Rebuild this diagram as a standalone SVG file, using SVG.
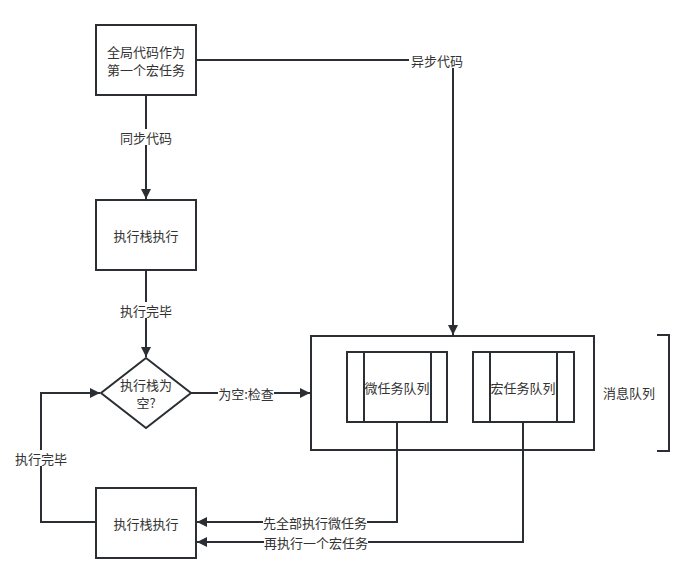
<svg xmlns="http://www.w3.org/2000/svg" width="693" height="582" viewBox="0 0 693 582">
<style>
.n{fill:#fff;stroke:#2b2f33;stroke-width:2}
.c{fill:none;stroke:#2b2f33;stroke-width:2}
.t{font-family:"Noto Sans CJK SC","Noto Sans",sans-serif;font-size:13px;fill:#333;text-anchor:middle;dominant-baseline:central}
.lb{fill:#fff}
</style>
<defs>
<marker id="a" viewBox="0 0 10 10" refX="10" refY="5" markerWidth="10" markerHeight="10" markerUnits="userSpaceOnUse" orient="auto">
<path d="M0,0 L10,5 L0,10 Z" fill="#2b2f33"/>
</marker>
</defs>
<rect width="693" height="582" fill="#fff"/>
<g id="queue">
<rect class="n" x="311" y="336" width="283" height="114"/>
</g>
<g id="connectors">
<path class="c" d="M196,60 H453 V335" marker-end="url(#a)"/>
<path class="c" d="M146,95 V199" marker-end="url(#a)"/>
<path class="c" d="M146,270 V357" marker-end="url(#a)"/>
<path class="c" d="M191,393 H310" marker-end="url(#a)"/>
<path class="c" d="M397,422 V522 H197" marker-end="url(#a)"/>
<path class="c" d="M523,422 V542 H197" marker-end="url(#a)"/>
<path class="c" d="M96,522 H41 V393 H100" marker-end="url(#a)"/>
<rect class="lb" x="409" y="52" width="56" height="16"/>
<text class="t" x="437" y="60">异步代码</text>
<rect class="lb" x="118" y="129" width="56" height="16"/>
<text class="t" x="146" y="137">同步代码</text>
<rect class="lb" x="118" y="302" width="56" height="16"/>
<text class="t" x="146" y="310">执行完毕</text>
<rect class="lb" x="218" y="385" width="56" height="16"/>
<text class="t" x="246" y="393">为空:检查</text>
<rect class="lb" x="263" y="514" width="104" height="16"/>
<text class="t" x="315" y="522">先全部执行微任务</text>
<rect class="lb" x="264" y="534" width="104" height="16"/>
<text class="t" x="316" y="542">再执行一个宏任务</text>
<rect class="lb" x="13" y="450" width="56" height="16"/>
<text class="t" x="41" y="458">执行完毕</text>
</g>
<g id="global">
<rect class="n" x="96" y="25" width="100" height="70"/>
<text class="t" x="146" y="51">全局代码作为</text>
<text class="t" x="146" y="69">第一个宏任务</text>
</g>
<g id="stack1">
<rect class="n" x="96" y="200" width="100" height="70"/>
<text class="t" x="146" y="235">执行栈执行</text>
</g>
<g id="check">
<path class="n" d="M146,358 L191,393 L146,428 L101,393 Z"/>
<text class="t" x="146" y="384">执行栈为</text>
<text class="t" x="146" y="402">空?</text>
</g>
<g id="micro">
<rect class="n" x="347" y="352" width="100" height="70"/>
<path class="c" d="M364,352 V422 M431,352 V422"/>
<text class="t" x="397" y="387">微任务队列</text>
</g>
<g id="macro">
<rect class="n" x="473" y="352" width="101" height="70"/>
<path class="c" d="M490,352 V422 M557,352 V422"/>
<text class="t" x="523" y="387">宏任务队列</text>
</g>
<g id="bracket">
<path class="c" d="M657,335 H669 V451 H657"/>
<text class="t" x="629" y="392">消息队列</text>
</g>
<g id="stack2">
<rect class="n" x="96" y="488" width="100" height="70"/>
<text class="t" x="146" y="523">执行栈执行</text>
</g>
</svg>
